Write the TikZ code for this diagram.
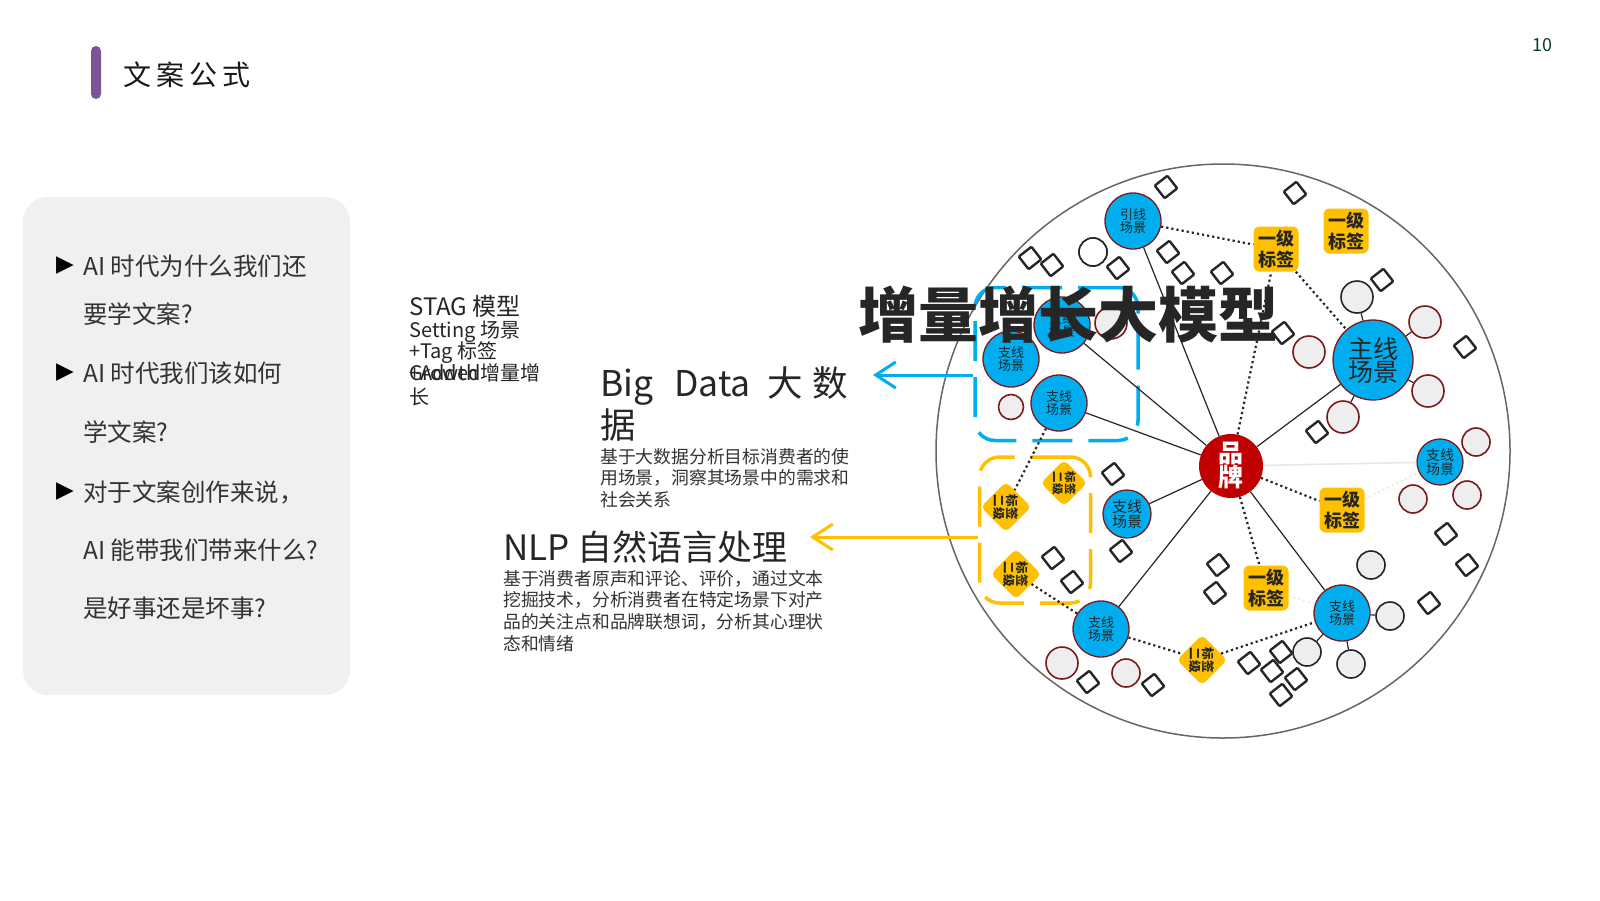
\documentclass[tikz,border=0pt]{standalone}
\usepackage{fontspec}
\setmainfont{Noto Sans CJK SC}
\newfontfamily\symfont{DejaVu Sans}
\usetikzlibrary{arrows.meta,shapes.geometric,positioning}
\definecolor{sceneblue}{HTML}{00AEEF}
\definecolor{ringred}{HTML}{7A1A1A}
\definecolor{brandred}{HTML}{C00000}
\definecolor{tagyellow}{HTML}{FFC000}
\definecolor{satgray}{HTML}{EEEEEE}
\definecolor{txtdark}{HTML}{262626}
\definecolor{txtgray}{HTML}{333333}
\definecolor{panelgray}{HTML}{F0F0F0}
\definecolor{barpurple}{HTML}{7B5597}
\definecolor{pagegreen}{HTML}{0B3D2C}
\newcommand{\fs}[2]{\fontsize{#1}{#2}\selectfont}

\begin{document}
\begin{tikzpicture}[x=1pt,y=-1pt,
  scene/.style={circle,fill=sceneblue,draw=ringred,line width=1.3pt,inner sep=0pt,minimum size=56pt,align=center,text=txtdark,font=\fs{13}{13.5}},
  sat/.style={circle,fill=satgray,draw=ringred,line width=1.6pt,inner sep=0pt,minimum size=#1},
  sat/.default=30pt,
  satk/.style={sat=#1,draw=black!85},
  satk/.default=28pt,
  dia/.style={draw=black!85,line width=2.4pt,minimum size=16pt,inner sep=0pt,rotate=38,rounded corners=1pt},
  tagone/.style={fill=tagyellow,rounded corners=6pt,minimum size=45pt,inner sep=0pt,align=center,text=txtdark,font=\bfseries\fs{18}{21}},
  tagtwo/.style={diamond,fill=tagyellow,rounded corners=5pt,minimum size=50pt,inner sep=0pt,rotate=-90,align=center,text=txtdark,font=\bfseries\fs{12.5}{13.5}},
  link/.style={draw=txtdark,line width=1.2pt},
  dotlink/.style={draw=txtdark,line width=2.2pt,dash pattern=on 2.2pt off 3pt},
  faint/.style={draw=black!9,line width=1.6pt},
  qline/.style={anchor=west,inner sep=0pt,text=txtgray,font=\fs{24.5}{24.5}},
  bullet/.style={anchor=west,inner sep=0pt,text=black,font=\symfont\fs{23}{23}},
  stagline/.style={anchor=base west,inner sep=0pt,text=txtdark,font=\fs{20}{20}},
  desc/.style={anchor=north west,inner sep=0pt,align=left,text=txtgray,font=\fs{17.8}{21.7}},
  dashbox/.style={rectangle,rounded corners=20pt,line width=3.5pt,dash pattern=on 40pt off 16pt,inner sep=0pt},
  toarrow/.style={line width=3pt,-{Straight Barb[length=20pt,width=26pt]}}]

\fill[white] (0,0) rectangle (1600,900);
\useasboundingbox (0,0) rectangle (1600,900);

\node[rectangle,rounded corners=5pt,fill=barpurple,minimum width=10pt,minimum height=53pt,inner sep=0pt] (bar) at (96,72.5) {};
\node[anchor=west,inner sep=0pt,font=\fs{28}{28},text=black!90] (title) at (123,75) {文\hspace{5pt}案\hspace{5pt}公\hspace{5pt}式};
\node[inner sep=0pt,font=\fs{18}{18},text=pagegreen] (pagenum) at (1542,45) {10};

\node[rectangle,rounded corners=25pt,fill=panelgray,minimum width=327pt,minimum height=498pt,inner sep=0pt] (panel) at (186.5,446) {};
\foreach \y [count=\i] in {266,373,492}
  \node[bullet] (b\i) at (56,\y) {▶};
\foreach \y/\t [count=\i] in {266/{AI 时代为什么我们还},314/{要学文案?},373/{AI 时代我们该如何},432/{学文案?},492/{对于文案创作来说，},550/{AI 能带我们带来什么?},608/{是好事还是坏事?}}
  \node[qline] (q\i) at (83,\y) {\t};

\node[stagline,font=\fs{24}{24}] (stag) at (409,315) {STAG 模型};
\node[stagline] (setting) at (409,337) {Setting 场景};
\node[stagline] (tag) at (409,358) {+Tag 标签};
\node[stagline] (added) at (409,380) {+Added增量增};
\node[stagline] (growth) at (409,380) {Growth};
\node[stagline] (chang) at (409,404) {长};

\node[anchor=north west,inner sep=0pt,align=left,text=txtdark,font=\fs{35.5}{42}] (bigdata) at (600,366) {Big\hspace{21pt}Data\hspace{17pt}大\hspace{9pt}数\\据};
\node[desc] (bddesc) at (600,448) {基于大数据分析目标消费者的使\\用场景，洞察其场景中的需求和\\社会关系};
\node[anchor=north west,inner sep=0pt,text=txtdark,font=\fs{35}{35}] (nlp) at (503,531) {NLP 自然语言处理};
\node[desc] (nlpdesc) at (503,570) {基于消费者原声和评论、评价，通过文本\\挖掘技术，分析消费者在特定场景下对产\\品的关注点和品牌联想词，分析其心理状\\态和情绪};

\node[circle,draw=black!60,line width=1.5pt,minimum size=574pt,inner sep=0pt] (ring) at (1223,451) {};
\node[dashbox,draw=sceneblue,minimum width=163pt,minimum height=153pt] (bbox) at (1056.5,364) {};
\node[dashbox,draw=tagyellow,minimum width=111pt,minimum height=146pt] (ybox) at (1035,530) {};

\foreach \x/\y/\d [count=\i] in {1111/323/32,1011/407/25,1309/352/32,1425/322/32,1428/391/32,1343/417/32,1476/442/28,1413/499/28,1467/495/28,1062/663/32,1126/673/28}
  \node[sat=\d pt] (rs\i) at (\x,\y) {};
\foreach \x/\y/\d [count=\i] in {1093/252/28,1357/297/32,1371/565/28,1390/616/28,1307/652/28,1351/664/28}
  \node[satk=\d pt] (ks\i) at (\x,\y) {};
\node[satk,fill=white] (ks1) at (1093,252) {};

\foreach \x/\y [count=\i] in {1166/187,1295/193,1030/258,1052/265,1118/268,1168/252,1183/273,1222/273,1382/280,1283/333,1465/347,1317/432,1113/474,1121/551,1053/558,1072/582,1218/565,1215/593,1446/534,1467/565,1429/603,1088/682,1153/685,1249/663,1281/652,1272/671,1296/679,1281/695}
  \node[dia] (d\i) at (\x,\y) {};

\node[scene] (s1) at (1133,221) {引线\\场景};
\node[scene] (s2) at (1062,325) {支线\\场景};
\node[scene] (s3) at (1011,359) {支线\\场景};
\node[scene] (s4) at (1059,403) {支线\\场景};
\node[scene,minimum size=80pt,font=\fs{25}{23}] (main) at (1373,360) {主线\\场景};
\node[scene,minimum size=46pt,font=\fs{14}{14}] (s6) at (1440,462) {支线\\场景};
\node[scene,minimum size=48pt,font=\fs{15}{15}] (s7) at (1127,514) {支线\\场景};
\node[scene] (s8) at (1101,629) {支线\\场景};
\node[scene] (s9) at (1342,613) {支线\\场景};
\node[circle,fill=brandred,minimum size=64pt,inner sep=0pt,align=center,text=white,font=\bfseries\fs{25}{24}] (brand) at (1231,466) {品\\牌};

\node[tagone] (ta) at (1276,249) {一级\\标签};
\node[tagone] (tb) at (1346,231) {一级\\标签};
\node[tagone] (tc) at (1342,510) {一级\\标签};
\node[tagone] (td) at (1266,588) {一级\\标签};
\node[tagtwo,minimum size=42pt,font=\bfseries\fs{11.5}{12.5}] (e1) at (1064,483) {标签\\二级};
\node[tagtwo] (e2) at (1006,507) {标签\\二级};
\node[tagtwo] (e3) at (1016,574) {标签\\二级};
\node[tagtwo] (e4) at (1202,660) {标签\\二级};

\draw[faint] (brand) -- (s6);
\draw[faint,dash pattern=on 2pt off 3pt] (tc) -- (s6);
\draw[faint,dash pattern=on 2pt off 3pt] (td) -- (s9);
\foreach \s in {s1,s2,s4,main,s7,s8,s9}
  \draw[link] (brand) -- (\s);
\foreach \k in {rs4,rs5,rs6,ks2}
  \draw[link] (main) -- (\k);
\foreach \k in {ks4,ks5,ks6}
  \draw[link] (s9) -- (\k);
\draw[dotlink] (s1) -- (ta);
\draw[dotlink] (ta) -- (main);
\draw[dotlink] (brand) -- (ta);
\draw[dotlink] (brand) -- (tc);
\draw[dotlink] (brand) -- (td);
\draw[dotlink] (s4) -- (e2);
\draw[dotlink] (e3) -- (s8);
\draw[dotlink] (s8) -- (e4);
\draw[dotlink] (e4) -- (s9);

\node[inner sep=0pt,text=txtdark,font=\bfseries\fs{60}{60}] (bigtitle) at (1068,315) {增量增长大模型};

\coordinate (bdtip) at (873,375);
\coordinate (nlptip) at (810,537);
\draw[toarrow,draw=sceneblue] (bdtip -| bbox.west) -- (bdtip);
\draw[toarrow,draw=tagyellow] (nlptip -| ybox.west) -- (nlptip);
\end{tikzpicture}
\end{document}
